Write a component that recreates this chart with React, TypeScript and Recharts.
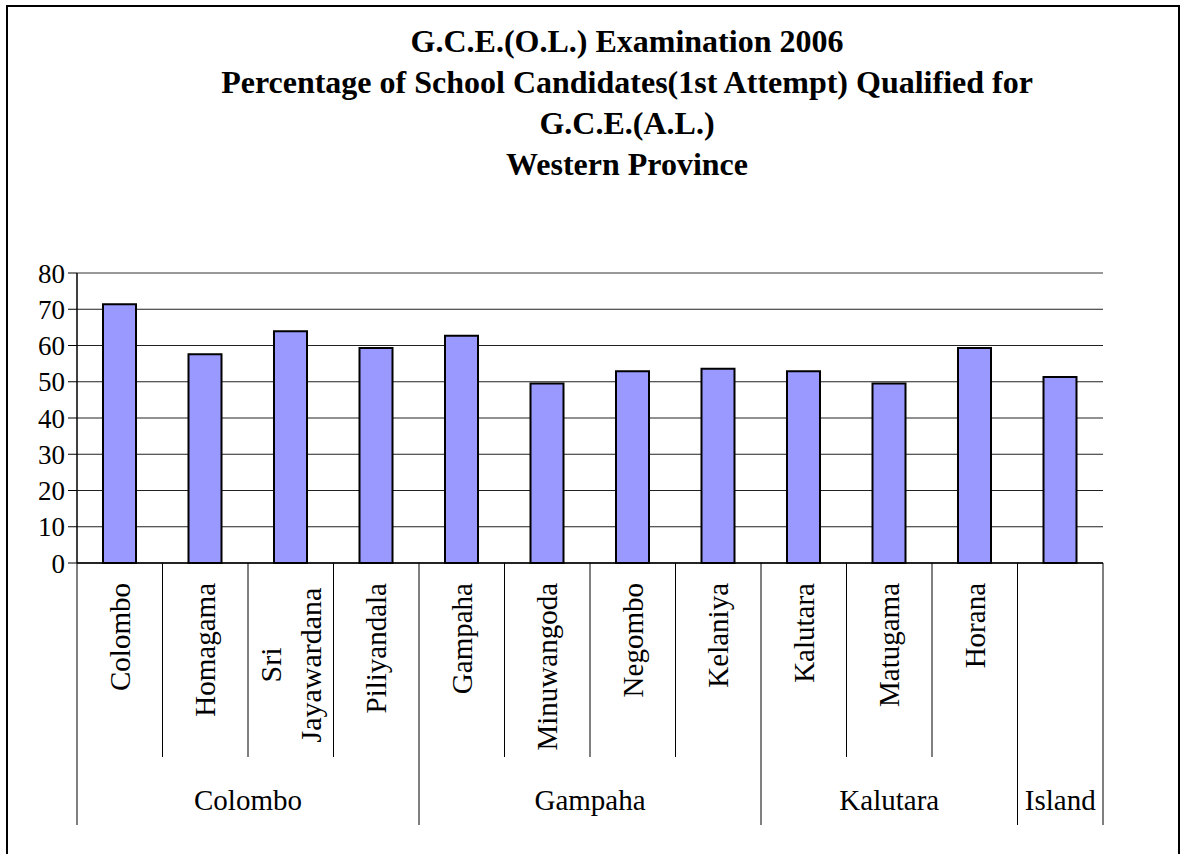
import React from "react";
import { BarChart, Bar, XAxis, YAxis, CartesianGrid, ReferenceLine } from "recharts";

const districts = [
  "Colombo", "Homagama", "Sri Jayawardana", "Piliyandala",
  "Gampaha", "Minuwangoda", "Negombo", "Kelaniya",
  "Kalutara", "Matugama", "Horana", "",
];
const groups = [
  "Colombo", "Colombo", "Colombo", "Colombo",
  "Gampaha", "Gampaha", "Gampaha", "Gampaha",
  "Kalutara", "Kalutara", "Kalutara", "Island",
];
const percentages = [71.4, 57.6, 63.9, 59.3, 62.7, 49.5, 52.9, 53.6, 52.9, 49.5, 59.3, 51.3];
const yTicks = [0, 10, 20, 30, 40, 50, 60, 70, 80];
const titleLines = [
  "G.C.E.(O.L.) Examination 2006",
  "Percentage of School Candidates(1st Attempt) Qualified for",
  "G.C.E.(A.L.)",
  "Western Province",
];

const data = districts.map((d, i) => ({ key: String(i), name: d, group: groups[i], value: percentages[i] }));

const W = 1185;
const H = 854;
const LEFT = 77;
const RIGHT_M = 82;
const TOP = 273;
const AXIS_H = 291;
const PLOT_W = W - LEFT - RIGHT_M;
const N = data.length;
const FONT = '"Liberation Serif", "Times New Roman", serif';

function CatTick(props: any) {
  const { x, y, payload } = props;
  const i = payload && payload.index != null ? payload.index : props.index;
  const bw = PLOT_W / N;
  const left = x - bw / 2;
  const right = x + bw / 2;
  const groupStart = i === 0 || groups[i] !== groups[i - 1];
  const isLast = i === N - 1;
  const lines = districts[i] ? districts[i].split(" ") : [];
  let gSize = 0;
  if (groupStart) {
    let j = i;
    while (j < N && groups[j] === groups[i]) { j++; gSize++; }
  }
  const shortBottom = y + 194;
  const longBottom = y + 262;
  const labelTop = y + 20;
  const lh = 40;
  return (
    <g>
      <line x1={left} y1={y} x2={left} y2={groupStart ? longBottom : shortBottom} stroke="#000" strokeWidth={1} />
      {isLast && <line x1={right} y1={y} x2={right} y2={longBottom} stroke="#000" strokeWidth={1} />}
      {lines.length === 1 && (
        <text
          x={x}
          y={labelTop}
          transform={`rotate(-90, ${x}, ${labelTop})`}
          textAnchor="end"
          dominantBaseline="central"
          fontSize={29}
          fontFamily={FONT}
          fill="#000"
        >
          {lines[0]}
        </text>
      )}
      {lines.length > 1 && lines.map((ln, k) => {
        const cx = x + (k - (lines.length - 1) / 2) * lh;
        const cy = labelTop + 82;
        return (
          <text
            key={k}
            x={cx}
            y={cy}
            transform={`rotate(-90, ${cx}, ${cy})`}
            textAnchor="middle"
            dominantBaseline="central"
            fontSize={30}
            fontFamily={FONT}
            fill="#000"
          >
            {ln}
          </text>
        );
      })}
      {groupStart && (
        <text
          x={left + (gSize * bw) / 2}
          y={y + 237}
          textAnchor="middle"
          dominantBaseline="central"
          fontSize={29}
          fontFamily={FONT}
          fill="#000"
        >
          {groups[i]}
        </text>
      )}
    </g>
  );
}

export default function App() {
  return (
    <div style={{ position: "absolute", left: 0, top: 0, width: W, height: H, overflow: "hidden", background: "#fff" }}>
      <div
        style={{
          position: "absolute",
          left: 6,
          top: 5,
          width: 1174,
          height: 900,
          border: "2px solid #000",
          boxSizing: "border-box",
        }}
      />
      <div
        style={{
          position: "absolute",
          left: 127,
          top: 21,
          width: 1000,
          textAlign: "center",
          fontFamily: FONT,
          fontWeight: "bold",
          fontSize: 32,
          lineHeight: "41px",
          color: "#000",
        }}
      >
        {titleLines.map((t, i) => (
          <div key={i}>{t}</div>
        ))}
      </div>
      <div style={{ position: "absolute", left: 0, top: 0 }}>
        <BarChart
          width={W}
          height={H}
          data={data}
          margin={{ top: TOP, right: RIGHT_M, bottom: 0, left: 0 }}
        >
          <CartesianGrid vertical={false} stroke="#222" strokeWidth={1} />
          <XAxis
            dataKey="key"
            height={AXIS_H}
            interval={0}
            tickLine={false}
            tickSize={0}
            tickMargin={0}
            axisLine={{ stroke: "#000", strokeWidth: 1.5 }}
            tick={(p: any) => <CatTick {...p} />}
          />
          <YAxis
            width={LEFT}
            domain={[0, 80]}
            ticks={yTicks}
            interval={0}
            tickSize={9}
            tickMargin={3}
            axisLine={{ stroke: "#000", strokeWidth: 1.5 }}
            tickLine={{ stroke: "#000" }}
            tick={{ fontSize: 27, fontFamily: FONT, fill: "#000" }}
          />
          <YAxis
            yAxisId="r"
            orientation="right"
            width={0}
            domain={[0, 80]}
            tick={false}
            tickLine={false}
            axisLine={{ stroke: "#999", strokeWidth: 2 }}
          />
          <ReferenceLine y={80} stroke="#999" strokeWidth={2} />
          <Bar
            dataKey="value"
            fill="#9999FF"
            stroke="#000"
            strokeWidth={2}
            barSize={33}
            isAnimationActive={false}
          />
        </BarChart>
      </div>
    </div>
  );
}
